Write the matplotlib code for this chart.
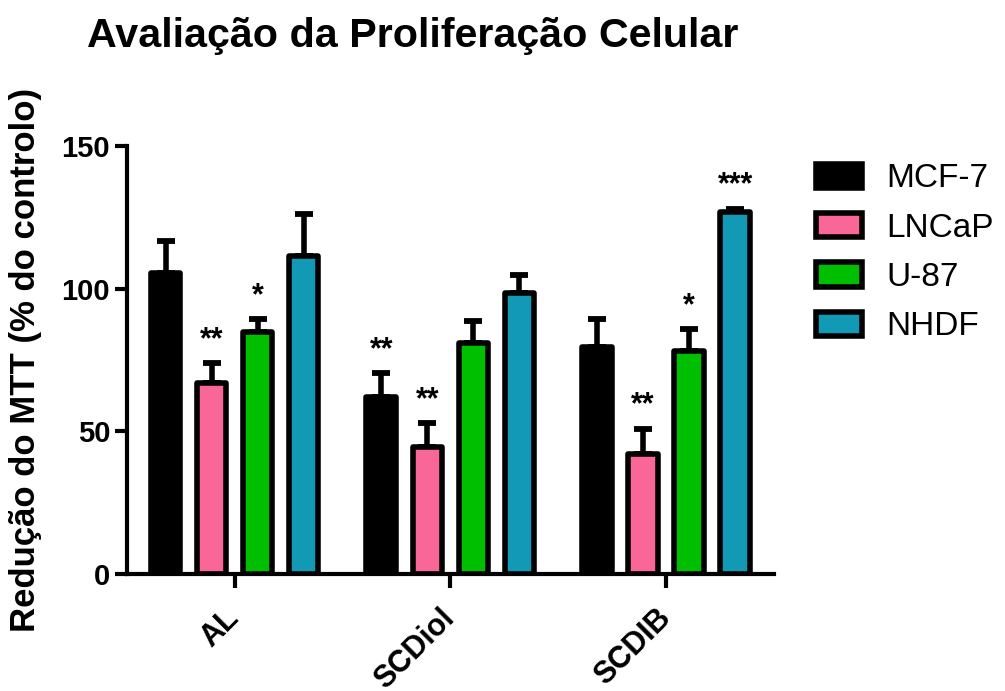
import numpy as np
import matplotlib
matplotlib.use("Agg")
import matplotlib.pyplot as plt
from matplotlib.transforms import ScaledTranslation

plt.rcParams['font.family'] = ['Liberation Sans', 'DejaVu Sans']

# Compounds tested (x groups) and cell lines (series)
compounds = ["AL", "SCDiol", "SCDIB"]
cell_lines = ["MCF-7", "LNCaP", "U-87", "NHDF"]

# Mean MTT reduction (% of control) and standard deviation
mcf7_mean = [105.4, 62.1, 79.4]
mcf7_sd = [11.2, 8.3, 9.9]
lncap_mean = [66.9, 44.4, 42.0]
lncap_sd = [7.0, 8.5, 9.0]
u87_mean = [84.9, 80.9, 78.0]
u87_sd = [4.4, 7.8, 7.8]
nhdf_mean = [111.5, 98.6, 126.9]
nhdf_sd = [14.5, 6.2, 1.1]

# Significance marks versus control
mcf7_sig = ["", "**", ""]
lncap_sig = ["**", "**", "**"]
u87_sig = ["*", "", "*"]
nhdf_sig = ["", "", "***"]

y_ticks = [0, 50, 100, 150]

means = [mcf7_mean, lncap_mean, u87_mean, nhdf_mean]
sds = [mcf7_sd, lncap_sd, u87_sd, nhdf_sd]
sigs = [mcf7_sig, lncap_sig, u87_sig, nhdf_sig]
colors = ["#000000", "#F96799", "#00BF00", "#1199B5"]

fig = plt.figure(figsize=(10.05, 6.91), dpi=100)
ax = fig.add_axes([0.1261, 0.1689, 0.644, 0.6202])

x = np.arange(len(compounds))
pitch = 0.2135
width = 0.137
edge_lw = 4.0

for i, (m, s, sg, c, name) in enumerate(zip(means, sds, sigs, colors, cell_lines)):
    xs = x + (i - 1.5) * pitch
    ax.bar(xs, m, width=width, color=c, edgecolor="black", linewidth=edge_lw,
           label=name, zorder=3, joinstyle="round")
    ax.errorbar(xs, m, yerr=[np.zeros(len(m)), s], fmt="none", ecolor="black",
                elinewidth=4, capsize=6.2, capthick=4.2, zorder=2, clip_on=False)
    for xi, mi, si, lab in zip(xs, m, s, sg):
        if lab:
            ax.annotate(lab, (xi, mi + si), xytext=(0, 11), textcoords="offset points",
                        ha="center", va="baseline", fontsize=22, fontweight="bold",
                        annotation_clip=False)

ax.set_xlim(-0.5, 2.5)
ax.set_ylim(0, 150)
ax.set_yticks(y_ticks)
ax.set_xticks(x)
ax.set_xticklabels(compounds, rotation=45, ha="right", va="center",
                   rotation_mode="anchor", fontsize=22, fontweight="bold")
for lab in ax.get_xticklabels():
    lab.set_transform(lab.get_transform() + ScaledTranslation(0.07, 0, fig.dpi_scale_trans))
for lab in ax.get_yticklabels():
    lab.set_fontsize(21)
    lab.set_fontweight("bold")

for side in ("top", "right"):
    ax.spines[side].set_visible(False)
for side in ("left", "bottom"):
    ax.spines[side].set_linewidth(3)
    ax.spines[side].set_zorder(5)
ax.tick_params(axis="y", length=8.5, width=3, pad=3.5)
ax.tick_params(axis="x", length=10, width=3, pad=18.5)

ax.set_ylabel("Redução do MTT (% do controlo)", fontsize=25, fontweight="bold", labelpad=14)

fig.text(0.411, 0.932, "Avaliação da Proliferação Celular", ha="center", va="baseline",
         fontsize=29.7, fontweight="bold")

ax.legend(loc="center left", bbox_to_anchor=(0.812, 0.634), bbox_transform=fig.transFigure,
          frameon=False, fontsize=24, handlelength=1.37, handleheight=0.74,
          handletextpad=0.75, labelspacing=0.55, borderpad=0, borderaxespad=0)

fig.savefig("out.png", dpi=100)
